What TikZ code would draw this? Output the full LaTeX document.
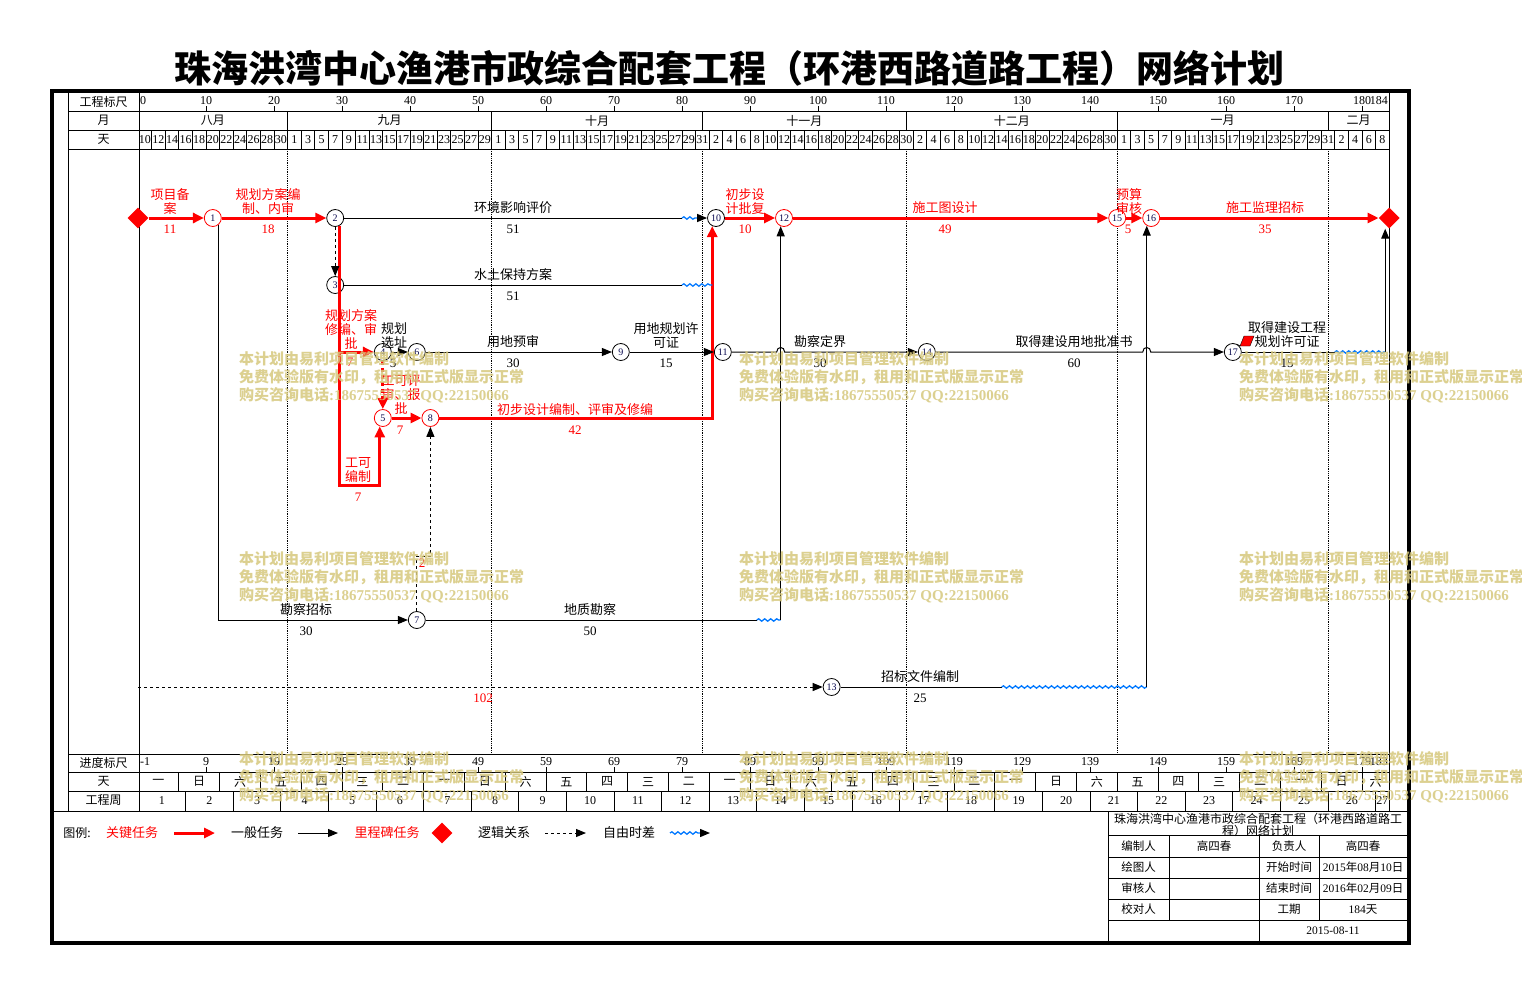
\documentclass[tikz,border=0pt]{standalone}
\usepackage{fontspec}
\setmainfont{Noto Sans CJK SC}
\newfontfamily\numf{Liberation Serif}
\usetikzlibrary{arrows.meta,positioning,shapes.geometric,calc,decorations.pathmorphing}
\definecolor{myred}{RGB}{255,0,0}
\definecolor{myblue}{RGB}{0,120,255}
\definecolor{mynavy}{RGB}{10,10,80}
\definecolor{mywm}{RGB}{214,200,125}
\newcommand{\tx}[1]{{138+6.8*(#1)}}
\newcommand{\fs}[1]{\fontsize{#1}{#1}\selectfont}

\begin{document}
\begin{tikzpicture}[x=1pt,y=-1pt,
  every node/.style={font=\fs{12},inner sep=0pt},
  grid/.style={line width=1pt},
  numl/.style={font=\numf\fs{12}},
  evt/.style={circle,draw,line width=0.8pt,fill=white,minimum size=17pt,text=mynavy,font=\numf\fs{10}},
  evtc/.style={evt,draw=myred},
  ms/.style={diamond,fill=myred,minimum width=21pt,minimum height=21pt},
  act/.style={line width=1pt},
  task/.style={act,-{Triangle[length=10pt,width=8pt]}},
  crit/.style={myred,line width=3pt,-{Triangle[length=11pt,width=10pt]}},
  logic/.style={act,dash pattern=on 3pt off 3pt,-{Triangle[length=10pt,width=8pt]}},
  flt/.style={myblue,line width=1.3pt,decorate,decoration={snake,amplitude=1.2pt,segment length=6pt}},
  fltarr/.style={decoration={post length=10pt},-{Triangle[length=10pt,width=8pt,color=black]}},
  tname/.style={font=\fontsize{13}{14}\selectfont,align=center},
  tnamec/.style={tname,text=myred},
  dur/.style={font=\numf\fs{13}},
  durc/.style={dur,text=myred},
  wm/.style={font=\fs{15}\bfseries,text=mywm,anchor=west,opacity=0.85}]
\fill[white] (0,0) rectangle (1522,993);
\useasboundingbox (0,0) rectangle (1522,993);

% 标题
\node[font=\fs{37}\bfseries] (title) at (729,68) {珠海洪湾中心渔港市政综合配套工程（环港西路道路工程）网络计划};

% 外框与表格
\draw[line width=4pt] (51.5,91) rectangle (1408.5,943);
\foreach \y in {111,130,149,754,772.5,791} \draw[grid] (68,\y) -- (1389.2,\y);
\draw[grid] (51,811) -- (1409,811);
\foreach \x in {68,139,1389.2} \draw[grid] (\x,92) -- (\x,811);

\node (h1) at (103.5,101.5) {工程标尺};
\node (h2) at (103.5,120.5) {月};
\node (h3) at (103.5,139.5) {天};
\node (b1) at (103.5,763) {进度标尺};
\node (b2) at (103.5,781.7) {天};
\node (b3) at (103.5,800.5) {工程周};

% 工程标尺
\foreach \t in {10,20,...,180} {
  \node[numl] (s\t) at (\tx{\t},100.5) {\t};
  \draw[grid] (\tx{\t},106) -- (\tx{\t},111);
}
\node[numl,anchor=west] (s0) at (140,100.5) {0};
\node[numl,anchor=east] (s184) at (1388,100.5) {184};

% 月
\foreach \a/\b/\m in {0/22/八月,22/52/九月,52/83/十月,83/113/十一月,113/144/十二月,144/175/一月,175/184/二月} {
  \node (m\a) at (\tx{(\a+\b)/2},120.5) {\m};
  \draw[grid] (\tx{\b},111) -- (\tx{\b},130);
}

% 天
\foreach \d [count=\k from 0] in {10,12,...,30,1,3,...,29,1,3,...,31,2,4,...,30,2,4,...,30,1,3,...,31,2,4,6,8} {
  \node[numl] (d\k) at (\tx{2*\k+1},139.5) {\d};
  \draw[grid] (\tx{2*\k+2},130) -- (\tx{2*\k+2},149);
}

% 月分隔虚线
\foreach \b in {22,52,83,113,144,175} \draw[densely dotted,line width=0.8pt] (\tx{\b},149) -- (\tx{\b},754);

% 进度标尺
\foreach \t [evaluate=\t as \v using int(\t-1)] in {10,20,...,180} {
  \node[numl] (p\t) at (\tx{\t},762) {\v};
  \draw[grid] (\tx{\t},767) -- (\tx{\t},772.5);
}
\node[numl,anchor=west] (p0) at (140,762) {-1};
\node[numl,anchor=east] (p184) at (1388,762) {183};

% 星期
\foreach \w [count=\k from 0] in {一,日,六,五,四,三,二,一,日,六,五,四,三,二,一,日,六,五,四,三,二,一,日,六,五,四,三,二,一,日,六} {
  \pgfmathsetmacro\ca{6*\k}
  \pgfmathsetmacro\cb{min(6*\k+6,184)}
  \node (wd\k) at (\tx{(\ca+\cb)/2},781.7) {\w};
  \draw[grid] (\tx{\cb},772.5) -- (\tx{\cb},791);
}

% 工程周
\foreach \k in {0,...,26} {
  \pgfmathsetmacro\ca{7*\k}
  \pgfmathsetmacro\cb{min(7*\k+7,184)}
  \pgfmathtruncatemacro\wk{\k+1}
  \node[numl] (wk\k) at (\tx{(\ca+\cb)/2},800.5) {\wk};
  \draw[grid] (\tx{\cb},791) -- (\tx{\cb},811);
}

% 节点
\node[ms] (st) at (\tx{0},218) {};
\node[evtc] (n1) at (\tx{11},218) {1};
\node[evt] (n2) at (\tx{29},218) {2};
\node[evt] (n3) at (\tx{29},285) {3};
\node[evt] (n4) at (\tx{36},352) {4};
\node[evtc] (n5) at (\tx{36},418) {5};
\node[evt] (n6) at (\tx{41},352) {6};
\node[evt] (n7) at (\tx{41},620) {7};
\node[evtc] (n8) at (\tx{43},418) {8};
\node[evt] (n9) at (\tx{71},352) {9};
\node[evt] (n10) at (\tx{85},218) {10};
\node[evt] (n11) at (\tx{86},352) {11};
\node[evtc] (n12) at (\tx{95},218) {12};
\node[evt] (n13) at (\tx{102},687) {13};
\node[evt] (n14) at (\tx{116},352) {14};
\node[evtc] (n15) at (\tx{144},218) {15};
\node[evtc] (n16) at (\tx{149},218) {16};
\node[evt] (n17) at (\tx{161},352) {17};
\node[ms] (fin) at (\tx{184},218) {};

\coordinate (c5) at ($(n5.-110)+(0,59)$);
\coordinate (w2) at (\tx{80},218);
\coordinate (w3) at (\tx{80},285);
\coordinate (c3) at (n10.-115 |- n3);
\coordinate (w7) at (\tx{91},620);
\coordinate (c7) at (n12.-112 |- n7);
\coordinate (w13) at (\tx{127},687);
\coordinate (c13) at (n16.-120 |- n13);
\coordinate (w17) at (\tx{176},352);
\coordinate (c17) at ($(fin.south |- n17)+(-4,0)$);
\coordinate (c78) at ($(n7.north)+(0,-55)$);

% 关键线路
\draw[crit] (st) -- (n1);
\draw[crit] (n1) -- (n2);
\draw[crit] (n2.-60) |- (n4);
\draw[crit] (n2.-60) |- (c5) -- (n5.-110);
\draw[crit,dash pattern=on 4pt off 3pt] (n4) -- (n5);
\draw[crit] (n5) -- (n8);
\draw[crit] (n8) -| (n10.-115);
\draw[crit] (n10) -- (n12);
\draw[crit] (n12) -- (n15);
\draw[crit] (n15) -- (n16);
\draw[crit] (n16) -- (fin);

% 一般工作
\draw[act] (n2) -- (w2);
\draw[flt,fltarr] (w2) -- (n10);
\draw[logic] (n2) -- (n3);
\draw[act] (n3) -- (w3);
\draw[flt] (w3) -- (c3);
\draw[task] (n4) -- (n6);
\draw[task] (n6) -- (n9);
\draw[task] (n9) -- (n11);
\draw[task] (n11) -- ($(c7 |- n11)+(-4,0)$) .. controls +(0,-6) and +(0,-6) .. ($(c7 |- n11)+(4,0)$) -- (n14);
\draw[task] (n14) -- ($(c13 |- n14)+(-4,0)$) .. controls +(0,-6) and +(0,-6) .. ($(c13 |- n14)+(4,0)$) -- (n17);
\draw[task] (n1.-51) |- (n7);
\draw[act] (n7) -- (w7);
\draw[flt] (w7) -- (c7);
\draw[task] (c7) -- (n12.-112);
\draw[act] (n13) -- (w13);
\draw[flt] (w13) -- (c13);
\draw[task] (c13) -- (n16.-120);
\draw[act] (n17) -- (w17);
\draw[flt] (w17) -- (c17);
\draw[task] (c17) -- (c17 |- fin.south);
\draw[logic] (st |- n13) -- (n13);
\draw[logic] (n7) -- (c78) -| (n8);

% 工作名称与持续时间
\node[tnamec] (t1) at (170,202) {项目备\\案};
\node[durc] (d1) at (170,229) {11};
\node[tnamec] (t2) at (268,202) {规划方案编\\制、内审};
\node[durc] (d2) at (268,229) {18};
\node[tname] (t3) at (513,208) {环境影响评价};
\node[dur] (d3) at (513,229) {51};
\node[tname] (t4) at (513,275) {水土保持方案};
\node[dur] (d4) at (513,296) {51};
\node[tnamec] (t5) at (351,329) {规划方案\\修编、审\\批};
\node[durc] (d5) at (350,362) {7};
\node[tname] (t6) at (394,336) {规划\\选址};
\node[dur] (d6) at (393,363) {5};
\node[tnamec] (t7) at (358,470) {工可\\编制};
\node[durc] (d7) at (358,497) {7};
\node[tnamec] (t8) at (401,395) {工可评\\审、报\\批};
\node[durc] (d8) at (400,430) {7};
\node[tnamec] (t9) at (575,410) {初步设计编制、评审及修编};
\node[durc] (d9) at (575,430) {42};
\node[tname] (t10) at (513,342) {用地预审};
\node[dur] (d10) at (513,363) {30};
\node[tname] (t11) at (666,336) {用地规划许\\可证};
\node[dur] (d11) at (666,363) {15};
\node[tnamec] (t12) at (745,202) {初步设\\计批复};
\node[durc] (d12) at (745,229) {10};
\node[tname] (t13) at (820,342) {勘察定界};
\node[dur] (d13) at (820,363) {30};
\node[tnamec] (t14) at (945,208) {施工图设计};
\node[durc] (d14) at (945,229) {49};
\node[tnamec] (t15) at (1129,202) {预算\\审核};
\node[durc] (d15) at (1128,229) {5};
\node[tnamec] (t16) at (1265,208) {施工监理招标};
\node[durc] (d16) at (1265,229) {35};
\node[tname] (t17) at (1074,342) {取得建设用地批准书};
\node[dur] (d17) at (1074,363) {60};
\node[tname] (t18) at (1287,335) {取得建设工程\\规划许可证};
\node[dur] (d18) at (1287,363) {15};
\node[tname] (t19) at (306,610) {勘察招标};
\node[dur] (d19) at (306,631) {30};
\node[tname] (t20) at (590,610) {地质勘察};
\node[dur] (d20) at (590,631) {50};
\node[durc] (d21) at (483,698) {102};
\node[tname] (t22) at (920,677) {招标文件编制};
\node[dur] (d22) at (920,698) {25};
\node[durc] (d23) at (422,563) {2};
% 备注标记
\draw[line width=0.6pt] (n17.60) -- (1240,346);
\filldraw[myred,draw=black,line width=0.4pt] (1240,346) -- (1244,336) -- (1254,336) -- (1250,346) -- cycle;

% 图例
\node (lg) at (77,833) {图例:};
\node[font=\fs{13},text=myred] (lg1) at (132,833) {关键任务};
\coordinate (la1) at (174,833); \coordinate (lb1) at (215,833);
\draw[crit] (la1) -- (lb1);
\node[font=\fs{13}] (lg2) at (257,833) {一般任务};
\coordinate (la2) at (298,833); \coordinate (lb2) at (338,833);
\draw[task] (la2) -- (lb2);
\node[font=\fs{13},text=myred] (lg3) at (387,833) {里程碑任务};
\node[ms] (lgm) at (442,833) {};
\node[font=\fs{13}] (lg4) at (504,833) {逻辑关系};
\coordinate (la4) at (545,833); \coordinate (lb4) at (586,833);
\draw[logic] (la4) -- (lb4);
\node[font=\fs{13}] (lg5) at (629,833) {自由时差};
\coordinate (la5) at (670,833); \coordinate (lb5) at (710,833);
\draw[flt,fltarr] (la5) -- (lb5);

% 标题栏
\draw[grid] (1108,811) -- (1108,943);
\foreach \y in {835,857,878,899,920} \draw[grid] (1108,\y) -- (1407,\y);
\draw[grid] (1169,835) -- (1169,920);
\draw[grid] (1259,835) -- (1259,943);
\draw[grid] (1319,835) -- (1319,920);
\node[font=\fontsize{12}{10.5}\selectfont,align=center] (tb0) at (1258,825) {珠海洪湾中心渔港市政综合配套工程（环港西路道路工\\程）网络计划};
\node[font=\fs{11.5}] (tb1) at (1138.5,846) {编制人};
\node[font=\fs{11.5}] (tb2) at (1214,846) {高四春};
\node[font=\fs{11.5}] (tb3) at (1289,846) {负责人};
\node[font=\fs{11.5}] (tb4) at (1363,846) {高四春};
\node[font=\fs{11.5}] (tb5) at (1138.5,867.5) {绘图人};
\node[font=\fs{11.5}] (tb6) at (1289,867.5) {开始时间};
\node[font=\fs{11.5}] (tb7) at (1363,867.5) {{\numf 2015}年{\numf 08}月{\numf 10}日};
\node[font=\fs{11.5}] (tb8) at (1138.5,888.5) {审核人};
\node[font=\fs{11.5}] (tb9) at (1289,888.5) {结束时间};
\node[font=\fs{11.5}] (tb10) at (1363,888.5) {{\numf 2016}年{\numf 02}月{\numf 09}日};
\node[font=\fs{11.5}] (tb11) at (1138.5,909.5) {校对人};
\node[font=\fs{11.5}] (tb12) at (1289,909.5) {工期};
\node[font=\fs{11.5}] (tb13) at (1363,909.5) {{\numf 184}天};
\node[font=\numf\fs{11.5}] (tb14) at (1333,930.5) {2015-08-11};

% 水印
\foreach \wx in {239,739,1239} \foreach \wy in {359,559,759} {
  \node[wm] at (\wx,\wy) {本计划由易利项目管理软件编制};
  \node[wm] at (\wx,\wy+18) {免费体验版有水印，租用和正式版显示正常};
  \node[wm] at (\wx,\wy+36) {购买咨询电话{\numf\bfseries :18675550537 QQ:22150066}};
}
\end{tikzpicture}
\end{document}
